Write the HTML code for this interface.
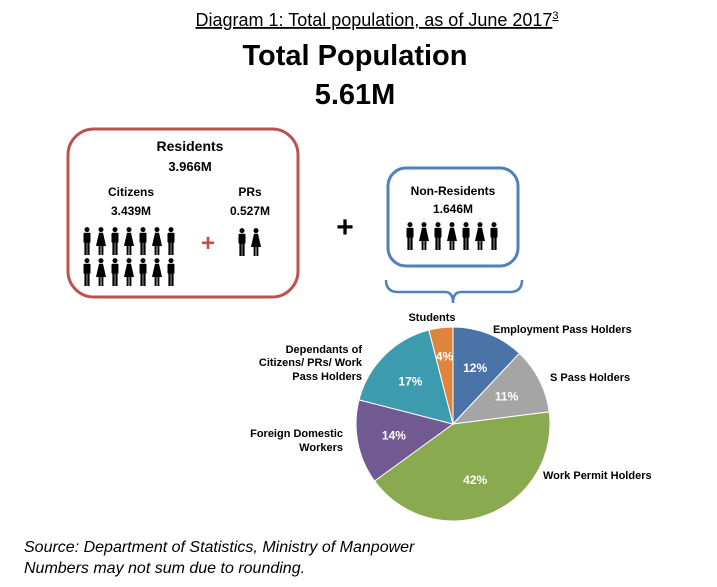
<!DOCTYPE html>
<html><head><meta charset="utf-8"><style>
body{margin:0;background:#fff;width:717px;height:587px;overflow:hidden;font-family:"Liberation Sans",sans-serif}
svg{position:absolute;left:0;top:0}
</style></head><body>
<svg width="717" height="587" viewBox="0 0 717 587">
<defs>
<g id="man"><circle cx="5" cy="2.6" r="2.5"/><rect x="1.5" y="5.8" width="7" height="10" rx="1"/><rect x="2.4" y="15" width="2.3" height="13"/><rect x="5.3" y="15" width="2.3" height="13"/></g>
<g id="woman"><circle cx="5" cy="2.6" r="2.5"/><path d="M3 5.8 H7 L10 19 H0 Z"/><rect x="2.6" y="18" width="2" height="10"/><rect x="5.4" y="18" width="2" height="10"/></g>
</defs>
<text x="377" y="26" font-size="18" text-anchor="middle" text-decoration="underline">Diagram 1: Total population, as of June 2017<tspan font-size="11" dy="-7">3</tspan></text>
<text x="355" y="65" font-size="29" font-weight="bold" text-anchor="middle">Total Population</text>
<text x="355" y="104" font-size="29" font-weight="bold" text-anchor="middle">5.61M</text>

<rect x="68" y="129" width="230" height="168" rx="26" fill="none" stroke="#c0504d" stroke-width="3"/>
<text x="190" y="151" font-size="14" font-weight="bold" text-anchor="middle">Residents</text>
<text x="190" y="171" font-size="13" font-weight="bold" text-anchor="middle">3.966M</text>
<text x="131" y="196" font-size="12" font-weight="bold" text-anchor="middle">Citizens</text>
<text x="131" y="215" font-size="12" font-weight="bold" text-anchor="middle">3.439M</text>
<text x="250" y="196" font-size="12" font-weight="bold" text-anchor="middle">PRs</text>
<text x="250" y="215" font-size="12" font-weight="bold" text-anchor="middle">0.527M</text>
<g fill="#000">
<use href="#man" x="82" y="227"/><use href="#woman" x="96" y="227"/><use href="#man" x="110" y="227"/><use href="#woman" x="124" y="227"/><use href="#man" x="138" y="227"/><use href="#woman" x="152" y="227"/><use href="#man" x="166" y="227"/>
<use href="#man" x="82" y="258"/><use href="#woman" x="96" y="258"/><use href="#man" x="110" y="258"/><use href="#woman" x="124" y="258"/><use href="#man" x="138" y="258"/><use href="#woman" x="152" y="258"/><use href="#man" x="166" y="258"/>
<use href="#man" x="237" y="228"/><use href="#woman" x="251" y="228"/>
</g>
<text x="208" y="251" font-size="24" font-weight="bold" fill="#c0504d" text-anchor="middle">+</text>
<text x="345" y="237" font-size="30" font-weight="bold" text-anchor="middle">+</text>

<rect x="388" y="168" width="130" height="98" rx="18" fill="none" stroke="#4f81bd" stroke-width="3"/>
<text x="453" y="195" font-size="12" font-weight="bold" text-anchor="middle">Non-Residents</text>
<text x="453" y="213" font-size="12" font-weight="bold" text-anchor="middle">1.646M</text>
<g fill="#000">
<use href="#man" x="405" y="222"/><use href="#woman" x="419" y="222"/><use href="#man" x="433" y="222"/><use href="#woman" x="447" y="222"/><use href="#man" x="461" y="222"/><use href="#woman" x="475" y="222"/><use href="#man" x="489" y="222"/>
</g>
<path d="M386 280 Q386 292 398 292 H445 Q453 292 453 303 Q453 292 461 292 H510 Q522 292 522 280" fill="none" stroke="#4f81bd" stroke-width="2.5"/>

<g id="pie"></g>
<text x="432" y="321" font-size="11" font-weight="bold" text-anchor="middle">Students</text>
<text x="493" y="333" font-size="11" font-weight="bold">Employment Pass Holders</text>
<text x="550" y="381" font-size="11" font-weight="bold">S Pass Holders</text>
<text x="543" y="479" font-size="11" font-weight="bold">Work Permit Holders</text>
<text x="343" y="437" font-size="11" font-weight="bold" text-anchor="end">Foreign Domestic</text>
<text x="343" y="451" font-size="11" font-weight="bold" text-anchor="end">Workers</text>
<text x="362" y="353" font-size="11" font-weight="bold" text-anchor="end">Dependants of</text>
<text x="362" y="366" font-size="11" font-weight="bold" text-anchor="end">Citizens/ PRs/ Work</text>
<text x="362" y="380" font-size="11" font-weight="bold" text-anchor="end">Pass Holders</text>

<text x="24" y="552" font-size="16" font-style="italic">Source: Department of Statistics, Ministry of Manpower</text>
<text x="24" y="573" font-size="16" font-style="italic">Numbers may not sum due to rounding.</text>
</svg>
<script>
const categories=["Employment Pass Holders","S Pass Holders","Work Permit Holders","Foreign Domestic Workers","Dependants","Students"];
const values=[12,11,42,14,17,4];
const colors=["#4a74a8","#a5a5a5","#8aaa50","#715a91","#3d9bb0","#de843d"];
const cx=453,cy=424,r=97;
const g=document.getElementById('pie');
const ns="http://www.w3.org/2000/svg";
const total=values.reduce((a,b)=>a+b,0);
let a0=-Math.PI/2;
values.forEach((v,i)=>{
  const a1=a0+v/total*2*Math.PI;
  const p=document.createElementNS(ns,'path');
  const large=(a1-a0)>Math.PI?1:0;
  p.setAttribute('d',`M${cx},${cy} L${cx+r*Math.cos(a0)},${cy+r*Math.sin(a0)} A${r},${r} 0 ${large} 1 ${cx+r*Math.cos(a1)},${cy+r*Math.sin(a1)} Z`);
  p.setAttribute('fill',colors[i]);
  p.setAttribute('stroke','#fff');
  p.setAttribute('stroke-width','1');
  
  
  g.appendChild(p);
  const m=(a0+a1)/2, lr=v<6?r*0.7:r*0.62;
  const t=document.createElementNS(ns,'text');
  t.setAttribute('x',cx+lr*Math.cos(m));
  t.setAttribute('y',cy+lr*Math.sin(m)+4);
  t.setAttribute('fill','#fff');
  t.setAttribute('font-size','12');
  t.setAttribute('font-weight','bold');
  t.setAttribute('text-anchor','middle');
  t.textContent=v+'%';
  
  
  g.appendChild(t);
  a0=a1;
});
</script>
</body></html>
